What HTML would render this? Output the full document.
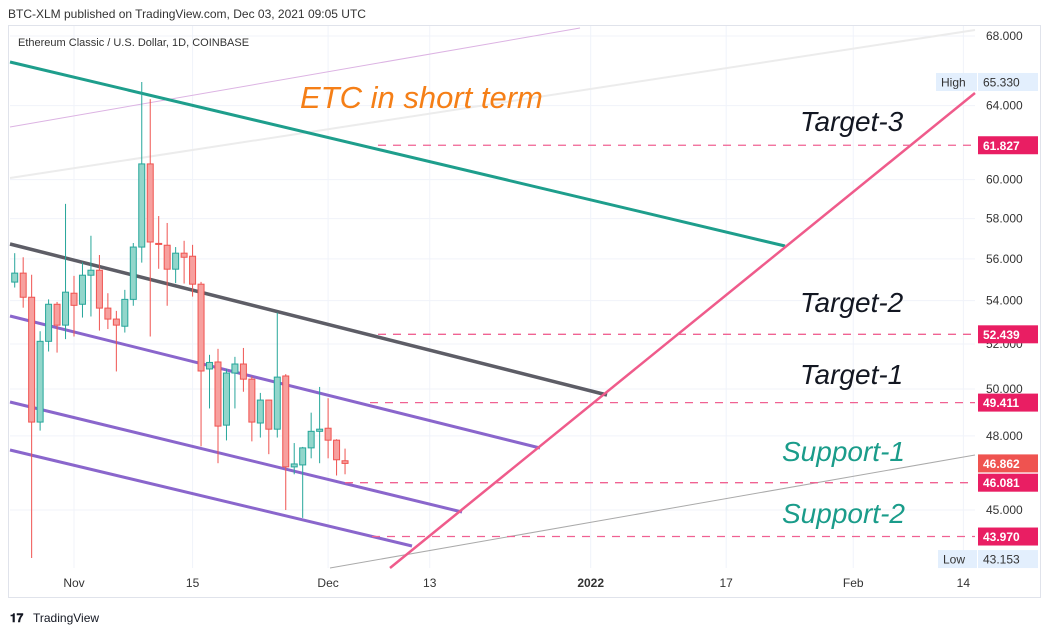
<!DOCTYPE html>
<html><head><meta charset="utf-8"><style>
body{margin:0;width:1052px;height:635px;background:#fff;overflow:hidden;font-family:"Liberation Sans",sans-serif}
svg{position:absolute;left:0;top:0}
</style></head><body>
<svg width="1052" height="635" id="chart">
<text x="8" y="18" font-size="12" fill="#333">BTC-XLM published on TradingView.com, Dec 03, 2021 09:05 UTC</text>
<rect x="8.5" y="25.5" width="1032" height="572" fill="none" stroke="#e0e3eb"/>
<g id="grid"></g>
<text x="18" y="46" font-size="11" fill="#333">Ethereum Classic / U.S. Dollar, 1D, COINBASE</text>
<g id="drawings"></g>
<g id="candles"></g>
<g id="texts">
<text x="300" y="108" font-size="31" font-style="italic" fill="#f57f17">ETC in short term</text>
<text x="800" y="131" font-size="28" font-style="italic" fill="#131722">Target-3</text>
<text x="800" y="312" font-size="28" font-style="italic" fill="#131722">Target-2</text>
<text x="800" y="384" font-size="28" font-style="italic" fill="#131722">Target-1</text>
<text x="782" y="461" font-size="28" font-style="italic" fill="#1a9c8a">Support-1</text>
<text x="782" y="523" font-size="28" font-style="italic" fill="#1a9c8a">Support-2</text>
</g>
<g id="yaxis"></g>
<g id="xaxis"></g>
<g>
<text x="10" y="622" font-size="12" font-weight="bold" fill="#131722">𝟏𝟕</text>
<text x="33" y="622" font-size="12" fill="#131722">TradingView</text>
</g>
</svg>
<script>
const NS="http://www.w3.org/2000/svg";
// data: days offset from Nov 1, 2021
const startDay=-7;
const opens=[54.88,55.31,54.16,48.58,52.12,53.83,52.86,54.35,53.83,55.21,55.45,53.65,53.14,52.81,54.06,56.58,60.83,56.76,56.67,55.50,56.28,56.13,54.78,50.88,51.19,48.45,50.70,51.10,50.43,48.54,49.52,48.28,50.57,46.72,46.80,47.50,48.19,48.32,47.82,46.97];
const highs=[56.28,56.08,55.23,52.58,54.06,53.94,58.75,55.18,55.83,57.14,56.19,54.35,53.52,54.51,56.78,65.33,64.36,58.13,57.78,56.58,56.89,56.69,54.89,51.51,51.78,50.89,51.42,51.82,50.55,49.83,49.53,53.44,50.65,47.70,47.54,48.98,50.09,49.60,47.86,47.47];
const lows=[54.62,53.67,43.153,48.22,51.66,51.61,52.22,52.34,53.21,53.26,52.61,52.68,50.77,52.52,53.76,55.82,52.34,55.52,53.76,54.83,54.81,54.19,47.56,49.16,46.87,47.81,49.16,49.88,47.77,47.93,47.24,47.93,45.00,46.42,44.69,47.07,46.87,47.07,46.37,46.42];
const closes=[55.31,54.16,48.58,52.12,53.83,52.86,54.40,53.78,55.21,55.45,53.65,53.14,52.86,54.06,56.58,60.83,56.83,56.71,55.50,56.28,56.08,54.78,50.79,51.17,48.41,50.70,51.10,50.43,48.58,49.52,48.28,50.52,46.72,46.84,47.50,48.19,48.28,47.82,47.01,46.862];
const yTicks=[68,64,60,58,56,54,52,50,48,45];
const yTickLabels=["68.000","64.000","60.000","58.000","56.000","54.000","52.000","50.000","48.000","45.000"];
const xTickDays=[0,14,30,42,61,77,92,105];
const xTickLabels=["Nov","15","Dec","13","2022","17","Feb","14"];
const levels=[61.827,52.439,49.411,46.081,43.970];
const levelStart=[378,378,370,345,372];
const highVal=65.330, lowVal=43.153, lastVal=46.862;

const X=d=>74+d*8.47;
const Y=p=>36+(Math.log(68)-Math.log(p))*1148;
function mk(tag,attrs,parent){const e=document.createElementNS(NS,tag);for(const k in attrs)e.setAttribute(k,attrs[k]);document.getElementById(parent).appendChild(e);return e;}

// grid
yTicks.forEach(p=>{const l=mk('line',{x1:10,x2:975,y1:Y(p),y2:Y(p),stroke:'#f0f3fa'},'grid');

});
xTickDays.forEach(d=>{const l=mk('line',{x1:X(d),x2:X(d),y1:26,y2:568,stroke:'#f0f3fa'},'grid');

});

// drawings
const dr=[
[10,127,580,28,'#dcb3e3',1,'pink-trendline'],
[10,178,975,30,'#ececec',2,'gray-channel-line'],
[10,62,785,246,'#1e9e8c',3,'teal-resistance-line'],
[10,244,607,395,'#5d5d66',3.5,'gray-resistance-line'],
[10,316,540,448,'#8a66cc',3,'purple-channel-top'],
[10,402,462,512,'#8a66cc',3,'purple-channel-mid'],
[10,450,412,546,'#8a66cc',3,'purple-channel-bottom'],
[330,568,975,455,'#aaaaaa',1,'support-trendline'],
[390,568,975,93,'#ef5b8b',2.5,'pink-breakout-line']];
dr.forEach(a=>{const l=mk('line',{x1:a[0],y1:a[1],x2:a[2],y2:a[3],stroke:a[4],'stroke-width':a[5]},'drawings');

});
levels.forEach((v,i)=>{const l=mk('line',{x1:levelStart[i],x2:975,y1:Y(v),y2:Y(v),stroke:'#f06292','stroke-width':1.3,'stroke-dasharray':'8 7'},'drawings');

});

// candles
opens.forEach((o,i)=>{const c=closes[i],up=c>=o,x=X(startDay+i);
const col=up?'#26a69a':'#ef5350',fill=up?'#92d6cb':'#f7a09e';
const w=mk('line',{x1:x,x2:x,y1:Y(highs[i]),y2:Y(lows[i]),stroke:col,'stroke-width':1},'candles');


const t=Math.min(Y(o),Y(c)),h=Math.max(1,Math.abs(Y(o)-Y(c)));
const b=mk('rect',{x:x-3,y:t,width:6,height:h,fill:fill,stroke:col,'stroke-width':1},'candles');

});

// y axis
yTicks.forEach((p,i)=>{const t=mk('text',{x:986,y:Y(p)+4,'font-size':12,fill:'#333'},'yaxis');t.textContent=yTickLabels[i];

});
function box(x,y,w,bg,fg,txt,bold,name){const r=mk('rect',{x:x,y:y-9,width:w,height:18,fill:bg},'yaxis');


const t=mk('text',{x:x+5,y:y+4.5,'font-size':12,fill:fg,'font-weight':bold?'bold':'normal'},'yaxis');t.textContent=txt;

}
box(936,Y(highVal),41,'#e3effd','#333','High',false,'high-tag');
box(978,Y(highVal),60,'#e3effd','#333',highVal.toFixed(3),false,'high-price-tag');
box(938,Y(lowVal)+1,39,'#e3effd','#333','Low',false,'low-tag');
box(978,Y(lowVal)+1,60,'#e3effd','#333',lowVal.toFixed(3),false,'low-price-tag');
levels.forEach(v=>box(978,Y(v),60,'#e91e63','#fff',v.toFixed(3),true,'level-price-tag'));
box(978,Y(lastVal),60,'#ef5350','#fff',lastVal.toFixed(3),true,'last-price-tag');

// x axis
xTickDays.forEach((d,i)=>{const t=mk('text',{x:X(d),y:587,'font-size':12,fill:'#333','text-anchor':'middle','font-weight':xTickLabels[i]==='2022'?'bold':'normal'},'xaxis');t.textContent=xTickLabels[i];

});
</script>
</body></html>
